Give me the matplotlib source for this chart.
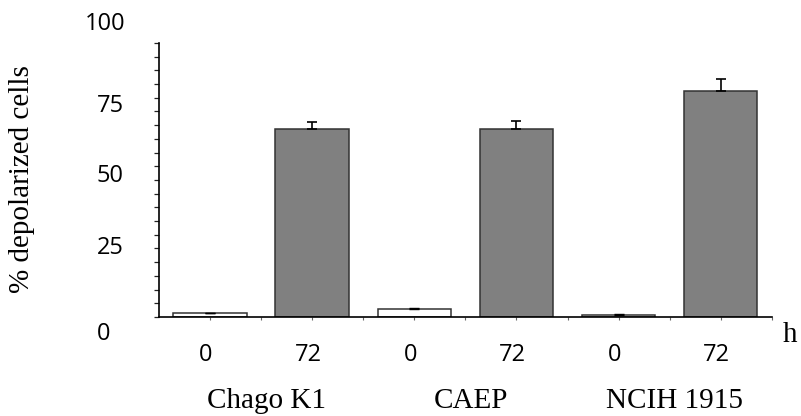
import matplotlib.pyplot as plt
import numpy as np

# data
cell_lines = ["Chago K1", "CAEP", "NCIH 1915"]
hours = ["0", "72"]
values_0h = [1.3, 2.8, 0.8]
errors_0h = [0.3, 0.3, 0.2]
values_72h = [68.5, 68.5, 82.4]
errors_72h = [2.6, 2.9, 4.4]
ytick_values = [100, 75, 50, 25, 0]

fig = plt.figure(figsize=(8.01, 4.16), dpi=100)
ax = fig.add_axes([0.1985, 0.238, 0.765, 0.659])

pos0 = np.arange(len(cell_lines)) * 2
pos72 = pos0 + 1
edge = "#333333"
ax.bar(pos0, values_0h, width=0.72, color="white", edgecolor=edge, linewidth=1.1,
       yerr=[np.zeros(3), errors_0h], error_kw=dict(ecolor="black", elinewidth=1, capsize=3.3, capthick=1))
ax.bar(pos72, values_72h, width=0.72, color="#808080", edgecolor=edge, linewidth=1.1,
       yerr=[np.zeros(3), errors_72h], error_kw=dict(ecolor="black", elinewidth=1.2, capsize=3.3, capthick=1.2))

ax.set_xlim(-0.5, 5.5)
ax.set_ylim(0, 100)

for s in ["top", "right"]:
    ax.spines[s].set_visible(False)
for s in ["left", "bottom"]:
    ax.spines[s].set_linewidth(1.2)
    ax.spines[s].set_color("black")

# y ticks every 5, labels drawn separately
ax.set_yticks(range(0, 101, 5))
ax.set_yticklabels([])
ax.tick_params(axis="y", direction="out", length=3.5, width=0.9, color="#222222")

# x ticks at bar centres and between bars
ax.set_xticks(np.arange(0, 5.51, 0.5))
ax.set_xticklabels([])
ax.tick_params(axis="x", direction="out", length=2.5, width=0.8, color="#666666")

# y tick labels (placed like the original)
ylab_pos = {100: (-0.088, 106.8), 75: (-0.08, 76.9), 50: (-0.08, 51.4), 25: (-0.08, 25.1), 0: (-0.091, -6.2)}
for v in ytick_values:
    xa, yd = ylab_pos[v]
    ax.text(xa, yd, str(v), transform=ax.get_yaxis_transform(), ha="center", va="center",
            fontsize=17, family="Open Sans", clip_on=False)

# hour labels under each bar
for i, p in enumerate(np.concatenate([pos0, pos72])):
    lab = hours[0] if i < 3 else hours[1]
    ax.text(p - 0.04, -14, lab, ha="center", va="center", fontsize=17, family="Open Sans", clip_on=False)

# cell line labels
for p, name in zip(pos0 + 0.55, cell_lines):
    ax.text(p, -30.5, name, ha="center", va="center", fontsize=21, family="Liberation Serif", clip_on=False)

ax.text(5.68, -6.5, "h", ha="center", va="center", fontsize=21, family="Liberation Serif", clip_on=False)

fig.text(0.027, 0.57, "% depolarized cells", rotation=90, ha="center", va="center",
         fontsize=21, family="Liberation Serif")

fig.savefig("out.png", dpi=100)
